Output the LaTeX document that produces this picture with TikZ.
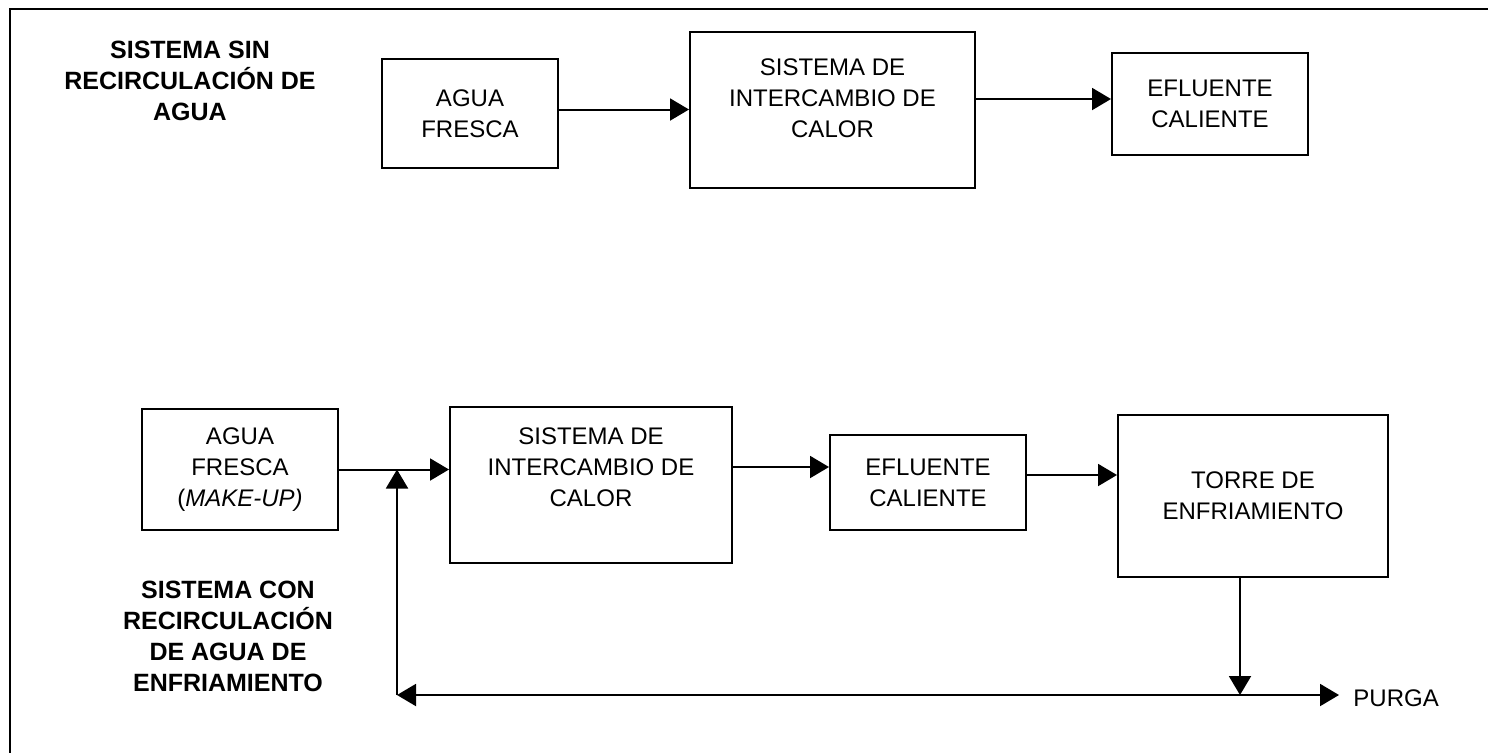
\documentclass[tikz,border=0pt]{standalone}
\usepackage{fontspec}
\setmainfont{Liberation Sans}
\usetikzlibrary{arrows.meta}

\tikzset{
  box/.style={draw, line width=1pt, inner sep=2pt, align=center},
  flow/.style={line width=1pt, -{Triangle[length=9.5pt,width=11pt]}},
  heading/.style={font=\fontsize{12.5}{15.5}\selectfont\bfseries, align=center},
}

\begin{document}
\begin{tikzpicture}[x=0.5pt, y=-0.5pt, font=\fontsize{12}{15.5}\selectfont]
		%%%%% FRAME %%%%%
		\useasboundingbox (0,0) rectangle (1488,752);
		\clip (0,0) rectangle (1488,752);
		\draw[line width=1.4pt] (10,760) -- (10,9) -- (1500,9);
		
		%%%%% SIN RECIRCULACION %%%%%
		\node[heading] (titA) at (190,81) {SISTEMA SIN\\RECIRCULACIÓN DE\\AGUA};
		
		\node[box, minimum width=88pt, minimum height=54.5pt] (aguaA) at (470,113.5) {AGUA\\FRESCA};
		\node[box, minimum width=142.5pt, minimum height=78pt,
		      label={[align=center, yshift=6pt]center:SISTEMA DE\\INTERCAMBIO DE\\CALOR}] (sistA) at (832.5,110) {};
		\node[box, minimum width=98pt, minimum height=51pt] (eflA) at (1210,104) {EFLUENTE\\CALIENTE};
		
		\coordinate (a1) at ([yshift=2pt]aguaA.east);
		\coordinate (a2) at ([yshift=5.5pt]sistA.east);
		\draw[flow] (a1) -- (a1 -| sistA.west);
		\draw[flow] (a2) -- (a2 -| eflA.west);
		
		%%%%% CON RECIRCULACION %%%%%
		\node[heading] (titB) at (228,636) {SISTEMA CON\\RECIRCULACIÓN\\DE AGUA DE\\ENFRIAMIENTO};
		
		\node[box, minimum width=98pt, minimum height=60.5pt] (aguaB) at (240,469.5) {AGUA\\FRESCA\\(\textit{MAKE-UP)}};
		\node[box, minimum width=141pt, minimum height=78pt,
		      label={[align=center, yshift=9pt]center:SISTEMA DE\\INTERCAMBIO DE\\CALOR}] (sistB) at (591,485) {};
		\node[box, minimum width=98pt, minimum height=47.5pt] (eflB) at (928,482.5) {EFLUENTE\\CALIENTE};
		\node[box, minimum width=135pt, minimum height=81pt] (torre) at (1253,496) {TORRE DE\\ENFRIAMIENTO};
		\node[anchor=west, inner sep=0pt] (purga) at (1353,698) {PURGA};
		
		\coordinate (junta) at (397,0 |- aguaB.east);
		\coordinate (b2) at ([yshift=9pt]sistB.east);
		\coordinate (b3) at ([yshift=3.75pt]eflB.east);
		\coordinate (baja) at ([xshift=-6.5pt]torre.south);
		\coordinate (ret) at (397,695);
		\coordinate (cruce) at (baja |- ret);
		
		\draw[flow] (aguaB.east) -- (aguaB.east -| sistB.west);
		\draw[flow] (b2) -- (b2 -| eflB.west);
		\draw[flow] (b3) -- (b3 -| torre.west);
		
		\draw[flow] (baja) -- (cruce);
		\draw[flow] (cruce) -- (ret);
		\draw[flow] (cruce) -- ([xshift=-7pt]purga.west |- ret);
		\draw[flow] (ret) -- (junta);
		
	\end{tikzpicture}
\end{document}
